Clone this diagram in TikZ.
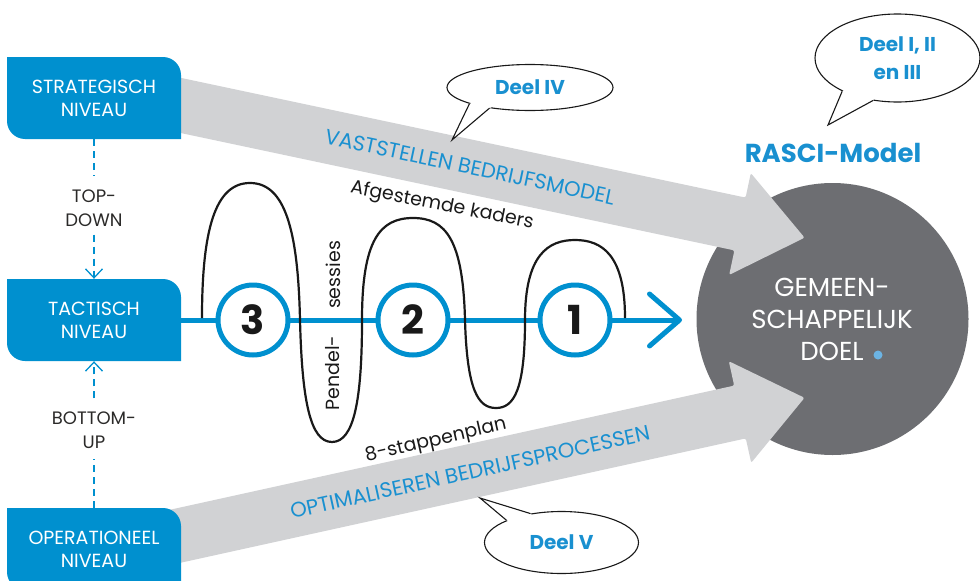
\documentclass[tikz,border=0pt]{standalone}
\usepackage{fontspec}
\setmainfont{Poppins}
\usetikzlibrary{arrows.meta,shapes.geometric,calc}
\definecolor{boxblue}{HTML}{0090CF}
\definecolor{bandgrey}{HTML}{D1D2D4}
\definecolor{goalgrey}{HTML}{6D6E72}
\definecolor{txtblue}{HTML}{1990D0}
\definecolor{dotblue}{HTML}{6CB4E4}
\definecolor{darktxt}{HTML}{2B2A29}
\newcommand{\lvlbox}[4]{%
  \begin{scope}[shift={(#2,#3)}]
    \fill[boxblue] (-87,-41) -- (69,-41) .. controls (78.9,-41) and (87,-32.9) .. (87,-23)
      -- (87,41) -- (-69,41) .. controls (-78.9,41) and (-87,32.9) .. (-87,23) -- cycle;
    \node[boxtext] (#1) at (0,0) {#4};
  \end{scope}}
\begin{document}
\begin{tikzpicture}[x=1pt,y=-1pt,
  boxtext/.style={text=white,font=\fontsize{19}{23}\selectfont,align=center,
    minimum width=174pt,minimum height=82pt,inner sep=0pt},
  sidetext/.style={text=darktxt,font=\fontsize{18}{24}\selectfont,align=center,inner sep=0pt},
  dashln/.style={boxblue,line width=1.3pt,dash pattern=on 7pt off 5pt},
  dasharr/.style={dashln,-{Straight Barb[length=9pt,width=17pt,line width=1.3pt]}},
  bandtext/.style={text=txtblue,font=\fontsize{21}{24}\selectfont,inner sep=0pt},
  blueline/.style={boxblue,line width=5pt},
  wave/.style={black!90,line width=2.2pt},
  numcirc/.style={circle,draw=boxblue,line width=5pt,fill=white,minimum size=70pt,inner sep=0pt,
    font=\fontsize{40}{40}\selectfont\bfseries,text=black!90},
  smalltext/.style={text=black!90,font=\fontsize{19}{22}\selectfont,inner sep=0pt},
  bubble/.style={ellipse,draw=black!90,line width=1.1pt,fill=white,inner sep=0pt,
    text=txtblue,font=\fontsize{20}{28}\selectfont\bfseries,align=center},
  tailfill/.style={fill=white},
  tailline/.style={draw=black!90,line width=1.1pt,line join=miter}]
\useasboundingbox (0,0) rectangle (980,581);

% goal circle
\node[circle,fill=goalgrey,minimum size=272pt,inner sep=0pt] (goal) at (832.5,319) {};

% grey bands
\fill[bandgrey,rounded corners=2pt] (147.5,70.8) -- (745.6,197.6) -- (750.8,173.1) -- (804.6,237.7)
  -- (729.2,274.9) -- (734.4,250.4) -- (136.3,123.6) -- cycle;
\fill[bandgrey,rounded corners=2pt] (136.1,517.2) -- (734.2,385.6) -- (728.8,361.2) -- (804.5,397.8)
  -- (751.2,462.8) -- (745.8,438.4) -- (147.7,570) -- cycle;

\node[bandtext,rotate=-12] (vast) at (470,167) {VASTSTELLEN BEDRIJFSMODEL};
\node[bandtext,rotate=12.4] (opti) at (470,472) {OPTIMALISEREN BEDRIJFSPROCESSEN};

% goal text
\node[text=white,font=\fontsize{26}{32}\selectfont,align=center,inner sep=0pt] (goaltxt) at (832,319)
  {GEMEEN-\\SCHAPPELIJK\\DOEL};
\fill[dotblue] (878,355) circle[radius=4.5pt];

% level boxes
\lvlbox{strat}{94}{98}{STRATEGISCH\\NIVEAU}
\lvlbox{tact}{94}{320}{TACTISCH\\NIVEAU}
\lvlbox{oper}{94}{549}{OPERATIONEEL\\NIVEAU}

% top-down / bottom-up
\node[sidetext] (td) at (94,208) {TOP-\\DOWN};
\node[sidetext] (bu) at (94,430) {BOTTOM-\\UP};
\draw[dashln] (strat.south) -- ([yshift=13pt]td.north);
\draw[dasharr] ([yshift=-8pt]td.south) -- (tact.north);
\draw[dasharr] ([yshift=13pt]bu.north) -- (tact.south);
\draw[dashln] (oper.north) -- ([yshift=-10pt]bu.south);

% blue process line
\coordinate (arrtip) at (682,320);
\draw[blueline,-{Straight Barb[length=30pt,width=52pt,line cap=round,line join=round]}] (tact.east) -- (arrtip);

% pendulum wave
\draw[wave] (202,318) .. controls (202,230) and (215,183) .. (250,183)
  .. controls (285,183) and (298,230) .. (300,320)
  .. controls (302,400) and (310,442) .. (332,442)
  .. controls (354,442) and (362,400) .. (362,320)
  .. controls (362,240) and (380,218) .. (413,218)
  .. controls (446,218) and (463,240) .. (465,320)
  .. controls (467,390) and (478,408) .. (496,408)
  .. controls (514,408) and (525,390) .. (525,320)
  .. controls (525,255) and (548,240) .. (575,240)
  .. controls (602,240) and (625,255) .. (625,318);

% numbered steps
\node[numcirc] (c3) at (253,320) {3};
\node[numcirc] (c2) at (413,320) {2};
\node[numcirc] (c1) at (575,320) {1};

% small labels
\node[smalltext,rotate=-11] (kaders) at (442,206) {Afgestemde kaders};
\node[smalltext,rotate=13] (plan) at (436,441) {8-stappenplan};
\node[smalltext,rotate=90] (pend) at (333,373) {Pendel-};
\node[smalltext,rotate=90] (sess) at (333,275) {sessies};

% RASCI
\node[text=txtblue,font=\fontsize{26}{30}\selectfont\bfseries,inner sep=0pt] (rasci) at (833,153) {RASCI-Model};

% bubbles
\node[bubble,minimum width=166pt,minimum height=46pt] (b4) at (530,87.5) {Deel IV};
\coordinate (b4tip) at (452,140);
\fill[tailfill] ($(b4.195)!0.2!(b4.center)$) -- (b4.195) -- (b4tip) -- (b4.207) -- ($(b4.207)!0.2!(b4.center)$) -- cycle;
\draw[tailline] (b4.195) -- (b4tip) -- (b4.207);

\node[bubble,minimum width=154pt,minimum height=62pt] (b5) at (561.5,542.5) {Deel V};
\coordinate (b5tip) at (480,498);
\fill[tailfill] ($(b5.158)!0.2!(b5.center)$) -- (b5.158) -- (b5tip) -- (b5.137) -- ($(b5.137)!0.2!(b5.center)$) -- cycle;
\draw[tailline] (b5.158) -- (b5tip) -- (b5.137);

\node[bubble,minimum width=165pt,minimum height=88pt] (b123) at (897.5,58) {Deel I, II\\en III};
\coordinate (b123tip) at (828,125);
\fill[tailfill] ($(b123.211)!0.2!(b123.center)$) -- (b123.211) -- (b123tip) -- (b123.240) -- ($(b123.240)!0.2!(b123.center)$) -- cycle;
\draw[tailline] (b123.211) -- (b123tip) -- (b123.240);
\end{tikzpicture}
\end{document}
